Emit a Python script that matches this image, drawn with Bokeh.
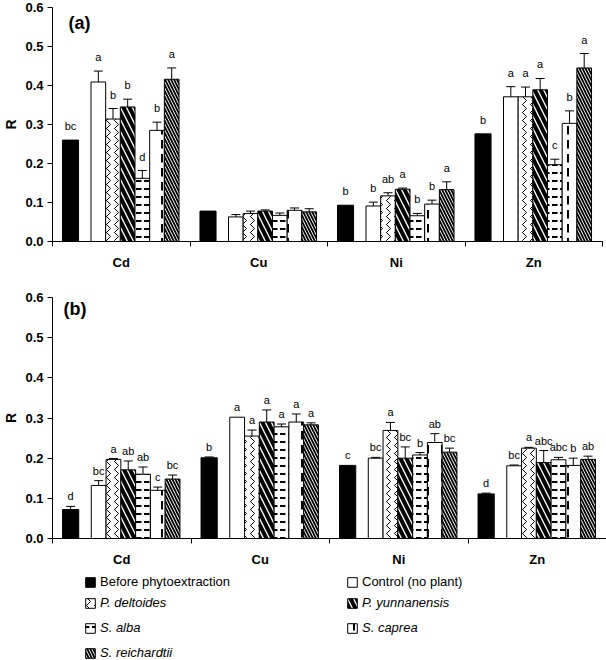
from bokeh.plotting import figure
from bokeh.models import (ColumnDataSource, Whisker, TeeHead, FixedTicker, Legend,
                          LegendItem, Label, Range1d)
from bokeh.layouts import column
from bokeh.embed import file_html
from bokeh.resources import INLINE
from bokeh.core.properties import value

FONT = "Liberation Sans"

metals = ["Cd", "Cu", "Ni", "Zn"]
series = ["Before phytoextraction", "Control (no plant)", "P. deltoides",
          "P. yunnanensis", "S. alba", "S. caprea", "S. reichardtii"]

# ---- panel (a) values (R) per series across metals Cd, Cu, Ni, Zn
before_a = [0.26, 0.078, 0.093, 0.276]
control_a = [0.409, 0.063, 0.091, 0.371]
deltoides_a = [0.314, 0.072, 0.117, 0.371]
yunnan_a = [0.345, 0.078, 0.134, 0.389]
alba_a = [0.162, 0.067, 0.066, 0.197]
caprea_a = [0.285, 0.080, 0.096, 0.303]
reich_a = [0.416, 0.076, 0.133, 0.445]

before_a_err = [0.0, 0.0, 0.0, 0.0]
control_a_err = [0.028, 0.006, 0.010, 0.026]
deltoides_a_err = [0.027, 0.006, 0.008, 0.025]
yunnan_a_err = [0.020, 0.003, 0.003, 0.029]
alba_a_err = [0.020, 0.006, 0.006, 0.014]
caprea_a_err = [0.021, 0.006, 0.010, 0.032]
reich_a_err = [0.029, 0.008, 0.020, 0.037]

before_a_lab = ["bc", "", "b", "b"]
control_a_lab = ["a", "", "b", "a"]
deltoides_a_lab = ["b", "", "ab", "a"]
yunnan_a_lab = ["b", "", "a", "a"]
alba_a_lab = ["d", "", "b", "c"]
caprea_a_lab = ["b", "", "b", "b"]
reich_a_lab = ["a", "", "a", "a"]

# ---- panel (b)
before_b = [0.072, 0.201, 0.182, 0.111]
control_b = [0.132, 0.302, 0.200, 0.181]
deltoides_b = [0.197, 0.255, 0.269, 0.225]
yunnan_b = [0.171, 0.290, 0.200, 0.189]
alba_b = [0.160, 0.278, 0.208, 0.196]
caprea_b = [0.120, 0.290, 0.239, 0.182]
reich_b = [0.148, 0.283, 0.215, 0.197]

before_b_err = [0.008, 0.002, 0.0, 0.002]
control_b_err = [0.012, 0.0, 0.002, 0.002]
deltoides_b_err = [0.002, 0.015, 0.020, 0.002]
yunnan_b_err = [0.022, 0.030, 0.028, 0.030]
alba_b_err = [0.018, 0.007, 0.006, 0.006]
caprea_b_err = [0.008, 0.020, 0.022, 0.018]
reich_b_err = [0.010, 0.005, 0.010, 0.008]

before_b_lab = ["d", "b", "c", "d"]
control_b_lab = ["bc", "a", "bc", "bc"]
deltoides_b_lab = ["a", "a", "a", "a"]
yunnan_b_lab = ["ab", "a", "bc", "abc"]
alba_b_lab = ["ab", "a", "b", "abc"]
caprea_b_lab = ["c", "a", "ab", "b"]
reich_b_lab = ["bc", "a", "bc", "ab"]

vals_a = [before_a, control_a, deltoides_a, yunnan_a, alba_a, caprea_a, reich_a]
errs_a = [before_a_err, control_a_err, deltoides_a_err, yunnan_a_err, alba_a_err, caprea_a_err, reich_a_err]
labs_a = [before_a_lab, control_a_lab, deltoides_a_lab, yunnan_a_lab, alba_a_lab, caprea_a_lab, reich_a_lab]
vals_b = [before_b, control_b, deltoides_b, yunnan_b, alba_b, caprea_b, reich_b]
errs_b = [before_b_err, control_b_err, deltoides_b_err, yunnan_b_err, alba_b_err, caprea_b_err, reich_b_err]
labs_b = [before_b_lab, control_b_lab, deltoides_b_lab, yunnan_b_lab, alba_b_lab, caprea_b_lab, reich_b_lab]

# bar styles
STYLES = [
    dict(fill_color="black"),
    dict(fill_color="white"),
    dict(fill_color="white", hatch_pattern=">", hatch_scale=8, hatch_weight=1, hatch_color="black"),
    dict(fill_color="white", hatch_pattern="\\", hatch_scale=12, hatch_weight=4, hatch_color="black"),
    dict(fill_color="white", hatch_pattern='"', hatch_scale=8, hatch_weight=2, hatch_color="black"),
    dict(fill_color="white", hatch_pattern=":", hatch_scale=14, hatch_weight=2, hatch_color="black"),
    dict(fill_color="white", hatch_pattern="\\", hatch_scale=6, hatch_weight=1.8, hatch_color="black"),
]

# bar placement within each metal group (group width = 1)
BLACK_CENTER, BLACK_W = 0.131, 0.117
SIX_START, SIX_W = 0.28, 0.1067


def offset(i):
    if i == 0:
        return BLACK_CENTER, BLACK_W
    return SIX_START + (i - 0.5) * SIX_W, SIX_W


def bar_source(vals, i):
    c, w = offset(i)
    xs = [g + c for g in range(len(metals))]
    return ColumnDataSource(dict(x=xs, top=vals[i])), xs, w


def make_panel(vals, errs, labs, tag, fw, fh, left, right, top, bottom, tag_pos, lab_off):
    p = figure(output_backend="svg", toolbar_location=None,
               frame_width=fw, frame_height=fh,
               min_border_left=left, min_border_right=right,
               min_border_top=top, min_border_bottom=bottom,
               x_range=Range1d(0, 4), y_range=Range1d(0, 0.6))
    p.outline_line_color = None
    p.xgrid.visible = False
    p.ygrid.visible = False
    p.background_fill_color = "white"
    p.border_fill_color = "white"

    wx, wu, wl = [], [], []
    tx, ty, tt = [], [], []
    for i in range(len(series)):
        src, xs, w = bar_source(vals, i)
        p.vbar(x="x", top="top", width=w, source=src, line_color="black",
               line_width=1, **STYLES[i])
        for g in range(len(metals)):
            if errs[i][g] > 0:
                wx.append(xs[g])
                wu.append(vals[i][g] + errs[i][g])
                wl.append(vals[i][g] - errs[i][g])
            if labs[i][g]:
                tx.append(xs[g])
                ty.append(vals[i][g] + errs[i][g])
                tt.append(labs[i][g])

    wsrc = ColumnDataSource(dict(base=wx, upper=wu, lower=wl))
    wh = Whisker(base="base", upper="upper", lower="lower", source=wsrc,
                 line_color="black", line_width=1,
                 upper_head=TeeHead(size=9, line_color="black", line_width=1),
                 lower_head=TeeHead(size=9, line_color="black", line_width=1))
    p.add_layout(wh)

    tsrc = ColumnDataSource(dict(x=tx, y=ty, t=tt))
    p.text(x="x", y="y", text="t", source=tsrc, text_align="center",
           text_baseline="alphabetic", y_offset=lab_off, text_font=value(FONT),
           text_font_size="11px", text_color="black")

    yax = p.yaxis[0]
    yax.ticker = FixedTicker(ticks=[0, 0.1, 0.2, 0.3, 0.4, 0.5, 0.6])
    yax.major_label_overrides = {t: f"{t:.1f}" for t in [0, 0.1, 0.2, 0.3, 0.4, 0.5, 0.6]}
    yax.major_tick_out = 5
    yax.major_tick_in = 0
    yax.minor_tick_out = 0
    yax.minor_tick_in = 0
    yax.major_label_standoff = 4
    yax.major_label_text_font = FONT
    yax.major_label_text_font_style = "bold"
    yax.major_label_text_font_size = "13px"
    yax.major_label_text_color = "black"
    yax.axis_line_color = "black"
    yax.axis_label = "R"
    yax.axis_label_standoff = 3
    yax.axis_label_text_font = FONT
    yax.axis_label_text_font_style = "bold"
    yax.axis_label_text_font_size = "14px"
    yax.axis_label_text_color = "black"

    xax = p.xaxis[0]
    xax.ticker = FixedTicker(ticks=[g + 0.5 for g in range(len(metals))],
                             minor_ticks=list(range(len(metals) + 1)))
    xax.major_label_overrides = {g + 0.5: m for g, m in enumerate(metals)}
    xax.major_tick_out = 0
    xax.major_tick_in = 0
    xax.minor_tick_out = 5
    xax.minor_tick_in = 0
    xax.major_label_standoff = 8
    xax.major_label_text_font = FONT
    xax.major_label_text_font_style = "bold"
    xax.major_label_text_font_size = "13px"
    xax.major_label_text_color = "black"
    xax.axis_line_color = "black"

    p.add_layout(Label(x=tag_pos[0], y=tag_pos[1], text=tag,
                       text_align="left", text_baseline="top",
                       text_font=FONT, text_font_style="bold",
                       text_font_size="18px", text_color="black"))
    return p


pa = make_panel(vals_a, errs_a, labs_a, "(a)", 550, 234, 49, 7, 7, 36,
                (0.116, 0.587), -14)
pb = make_panel(vals_b, errs_b, labs_b, "(b)", 554, 241, 51, 1, 20, 27,
                (0.079, 0.596), -10)

# legend strip: keys refer to (hidden) copies of the panel (b) bar series
pl = figure(output_backend="svg", toolbar_location=None, width=606, height=95,
            x_range=Range1d(0, 4), y_range=Range1d(0, 0.6),
            x_axis_location=None, y_axis_location=None,
            min_border_left=51, min_border_right=0, min_border_top=0, min_border_bottom=0)
pl.outline_line_color = None
pl.grid.visible = False
keys = []
for i in range(len(series)):
    src, xs, w = bar_source(vals_b, i)
    keys.append(pl.vbar(x="x", top="top", width=w, source=src, line_color="black",
                        line_width=1, visible=False, **STYLES[i]))

common = dict(orientation="horizontal", ncols=2, click_policy="none",
              glyph_width=12, glyph_height=12, label_width=236, label_height=15,
              label_standoff=4, spacing=10, padding=0, margin=0,
              label_text_font=FONT, label_text_font_size="13px",
              label_text_color="black", border_line_color=None,
              background_fill_alpha=0)
leg1 = Legend(items=[LegendItem(label=series[i], renderers=[keys[i]]) for i in range(2)],
              location=(32, 75), **common)
leg2 = Legend(items=[LegendItem(label=series[i], renderers=[keys[i]]) for i in range(2, 7)],
              location=(32, 4), label_text_font_style="italic", **common)
pl.add_layout(leg1)
pl.add_layout(leg2)

layout = column(pa, pb, pl, spacing=0)
open("out.html", "w").write(file_html(layout, INLINE))
